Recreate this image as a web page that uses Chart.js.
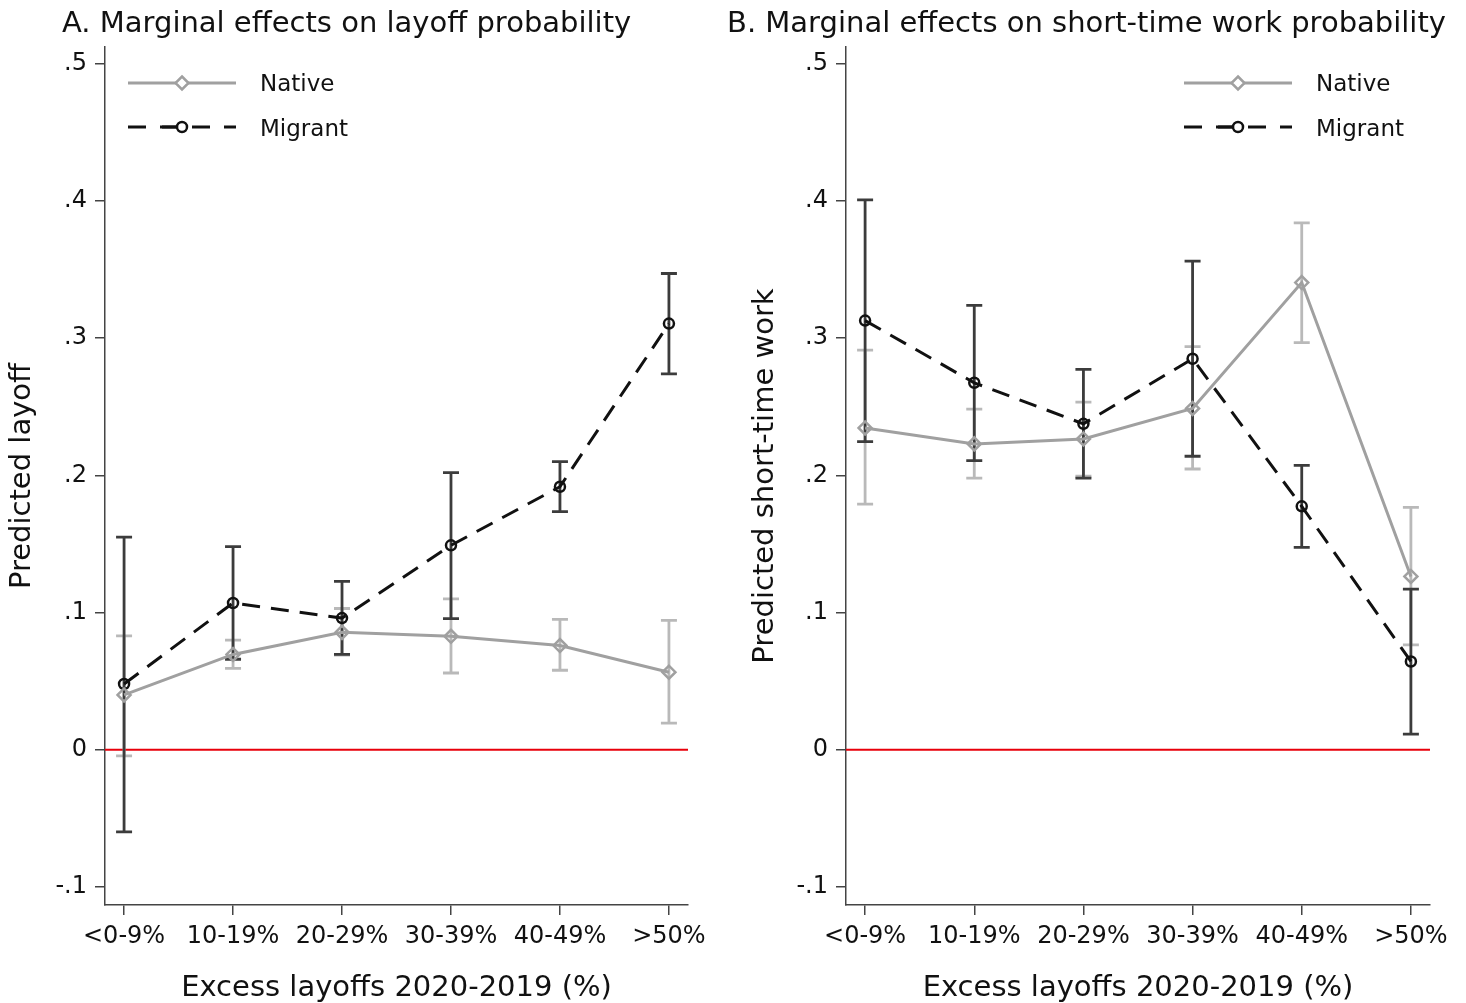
<!DOCTYPE html>
<html>
<head>
<meta charset="utf-8">
<script src="https://cdn.jsdelivr.net/npm/chart.js@4.4.1/dist/chart.umd.min.js"></script>
<style>
  body { margin: 0; width: 1466px; height: 1003px; background: #fff; overflow: hidden; position: relative; font-family: "DejaVu Sans", Verdana, sans-serif; color: #111; }
  .panel { position: absolute; top: 0; width: 733px; height: 1003px; }
  .title { position: absolute; font-size: 29px; line-height: 29px; white-space: nowrap; }
  .leg { position: absolute; font-size: 23px; line-height: 23px; white-space: nowrap; }
  .legsvg { position: absolute; }
</style>
</head>
<body>
<div class="panel" style="left:0"><canvas id="chartA" width="733" height="1003"></canvas></div>
<div class="panel" style="left:733px"><canvas id="chartB" width="733" height="1003"></canvas></div>

<div class="title" style="left:62px; top:8px">A. Marginal effects on layoff probability</div>
<div class="title" style="left:727px; top:8px">B. Marginal effects on short-time work probability</div>

<!-- legend panel A -->
<svg class="legsvg" style="left:128px; top:73px" width="110" height="20">
  <line x1="0" y1="10" x2="108" y2="10" stroke="#a0a0a0" stroke-width="3"/>
  <polygon points="54,3.5 60.5,10 54,16.5 47.5,10" fill="#fff" stroke="#a0a0a0" stroke-width="2.5"/>
</svg>
<div class="leg" style="left:260px; top:72px">Native</div>
<svg class="legsvg" style="left:128px; top:117px" width="110" height="20">
  <line x1="0" y1="10" x2="108" y2="10" stroke="#111" stroke-width="3" stroke-dasharray="18 14"/>
  <line x1="34" y1="10" x2="50" y2="10" stroke="#111" stroke-width="3"/>
  <circle cx="54" cy="10" r="5" fill="#fff" stroke="#111" stroke-width="2.5"/>
</svg>
<div class="leg" style="left:260px; top:117px">Migrant</div>

<!-- legend panel B -->
<svg class="legsvg" style="left:1184px; top:73px" width="110" height="20">
  <line x1="0" y1="10" x2="108" y2="10" stroke="#a0a0a0" stroke-width="3"/>
  <polygon points="54,3.5 60.5,10 54,16.5 47.5,10" fill="#fff" stroke="#a0a0a0" stroke-width="2.5"/>
</svg>
<div class="leg" style="left:1316px; top:72px">Native</div>
<svg class="legsvg" style="left:1184px; top:117px" width="110" height="20">
  <line x1="0" y1="10" x2="108" y2="10" stroke="#111" stroke-width="3" stroke-dasharray="18 14"/>
  <line x1="34" y1="10" x2="50" y2="10" stroke="#111" stroke-width="3"/>
  <circle cx="54" cy="10" r="5" fill="#fff" stroke="#111" stroke-width="2.5"/>
</svg>
<div class="leg" style="left:1316px; top:117px">Migrant</div>

<script>
// categories and tick values
const categories = ['<0-9%', '10-19%', '20-29%', '30-39%', '40-49%', '>50%'];
const yTicks = [-0.1, 0, 0.1, 0.2, 0.3, 0.4, 0.5];

// Panel A: layoff probability
const layoffNative   = [0.040, 0.0695, 0.0856, 0.0827, 0.076, 0.0566];
const layoffNativeLo = [-0.0044, 0.0593, 0.069, 0.056, 0.058, 0.0195];
const layoffNativeHi = [0.083, 0.080, 0.103, 0.110, 0.095, 0.0944];
const layoffMigrant   = [0.048, 0.107, 0.096, 0.149, 0.1917, 0.3105];
const layoffMigrantLo = [-0.0598, 0.066, 0.0695, 0.0956, 0.1735, 0.2739];
const layoffMigrantHi = [0.155, 0.148, 0.1227, 0.202, 0.210, 0.347];

// Panel B: short-time work probability
const stwNative   = [0.2345, 0.2229, 0.2265, 0.2487, 0.3404, 0.1263];
const stwNativeLo = [0.179, 0.198, 0.1993, 0.2046, 0.2966, 0.0765];
const stwNativeHi = [0.2912, 0.2482, 0.2533, 0.2937, 0.3839, 0.1766];
const stwMigrant   = [0.3127, 0.2674, 0.2375, 0.2849, 0.1774, 0.0644];
const stwMigrantLo = [0.2246, 0.2107, 0.198, 0.2139, 0.1475, 0.0114];
const stwMigrantHi = [0.4007, 0.3238, 0.2771, 0.356, 0.2072, 0.1171];

const FONT = '"DejaVu Sans", Verdana, sans-serif';
const AXIS = '#444';
const NATIVE = '#a0a0a0';
const NATIVE_CI = '#b9b9b9';
const MIGRANT = '#111111';
const MIGRANT_CI = '#3c3c3c';

function toPoints(vals) {
  return vals.map((v, i) => ({ x: i, y: v }));
}

// zero reference line + confidence intervals, drawn under the lines
const ciPlugin = {
  id: 'ciPlugin',
  beforeDatasetsDraw(chart) {
    const ctx = chart.ctx;
    const xs = chart.scales.x, ys = chart.scales.y;
    const area = chart.chartArea;
    ctx.save();
    ctx.strokeStyle = '#e8000b';
    ctx.lineWidth = 2;
    ctx.beginPath();
    ctx.moveTo(area.left, ys.getPixelForValue(0));
    ctx.lineTo(area.right, ys.getPixelForValue(0));
    ctx.stroke();

    chart.data.datasets.forEach(ds => {
      ctx.strokeStyle = ds.ciColor;
      ctx.lineWidth = 2.8;
      ds.lo.forEach((lo, i) => {
        const x = xs.getPixelForValue(i);
        const y1 = ys.getPixelForValue(lo);
        const y2 = ys.getPixelForValue(ds.hi[i]);
        ctx.beginPath();
        ctx.moveTo(x, y1); ctx.lineTo(x, y2);
        ctx.moveTo(x - 8, y1); ctx.lineTo(x + 8, y1);
        ctx.moveTo(x - 8, y2); ctx.lineTo(x + 8, y2);
        ctx.stroke();
      });
    });
    ctx.restore();
  }
};

function makeChart(id, yTitle, nat, natLo, natHi, mig, migLo, migHi, yWidth, titlePad, padRight) {
  return new Chart(document.getElementById(id), {
    type: 'line',
    data: {
      datasets: [
        {
          label: 'Native',
          data: toPoints(nat), lo: natLo, hi: natHi, ciColor: NATIVE_CI,
          borderColor: NATIVE, borderWidth: 3,
          pointStyle: 'rectRot', pointRadius: 6.5, pointBorderWidth: 2.5,
          pointBorderColor: NATIVE, pointBackgroundColor: 'rgba(255,255,255,0)'
        },
        {
          label: 'Migrant',
          data: toPoints(mig), lo: migLo, hi: migHi, ciColor: MIGRANT_CI,
          borderColor: MIGRANT, borderWidth: 3, borderDash: [18, 11],
          pointStyle: 'circle', pointRadius: 5, pointBorderWidth: 2.5,
          pointBorderColor: MIGRANT, pointBackgroundColor: 'rgba(255,255,255,0)'
        }
      ]
    },
    options: {
      responsive: false,
      animation: false,
      devicePixelRatio: 1,
      layout: { padding: { top: 47, right: padRight, bottom: 0, left: 0 } },
      plugins: { legend: { display: false }, tooltip: { enabled: false } },
      scales: {
        x: {
          type: 'linear', min: -0.175, max: 5.175,
          afterBuildTicks: s => { s.ticks = categories.map((c, i) => ({ value: i })); },
          afterFit: s => { s.height = 98; },
          grid: { display: true, drawOnChartArea: false, drawTicks: true, tickLength: 10, color: AXIS, lineWidth: 1.5 },
          border: { display: true, color: AXIS, width: 1.5 },
          ticks: {
            autoSkip: false, maxRotation: 0, padding: 7, color: '#111',
            font: { family: FONT, size: 24 },
            callback: v => categories[v]
          },
          title: {
            display: true, text: 'Excess layoffs 2020-2019 (%)', color: '#111',
            font: { family: FONT, size: 29, lineHeight: 1 }, padding: { top: 0, bottom: 0 }
          }
        },
        y: {
          type: 'linear', min: -0.113, max: 0.512,
          afterBuildTicks: s => { s.ticks = yTicks.map(v => ({ value: v })); },
          afterFit: s => { s.width = yWidth; },
          grid: { display: true, drawOnChartArea: false, drawTicks: true, tickLength: 10, color: AXIS, lineWidth: 1.5 },
          border: { display: true, color: AXIS, width: 1.5 },
          ticks: {
            padding: 8, color: '#111',
            font: { family: FONT, size: 24 },
            callback: v => (Math.abs(v) < 1e-9 ? '0' : v.toFixed(1).replace('0.', '.'))
          },
          title: {
            display: true, text: yTitle, color: '#111',
            font: { family: FONT, size: 29, lineHeight: 1 }, padding: { top: titlePad, bottom: 0 }
          }
        }
      },
      elements: { line: { tension: 0 } }
    },
    plugins: [ciPlugin]
  });
}

makeChart('chartA', 'Predicted layoff', layoffNative, layoffNativeLo, layoffNativeHi,
  layoffMigrant, layoffMigrantLo, layoffMigrantHi, 105, 8, 45);
makeChart('chartB', 'Predicted short-time work', stwNative, stwNativeLo, stwNativeHi,
  stwMigrant, stwMigrantLo, stwMigrantHi, 113, 18, 36);
</script>
</body>
</html>
